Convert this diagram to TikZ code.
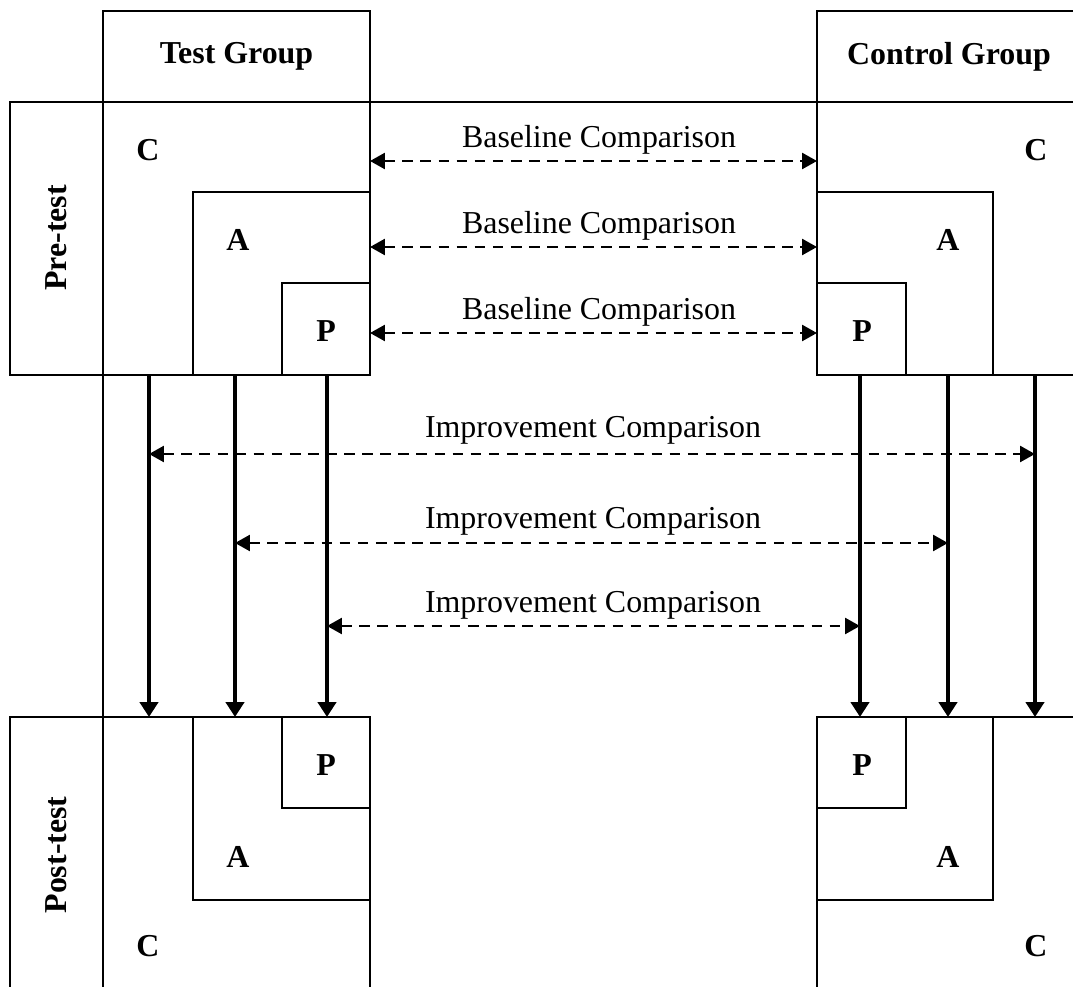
\documentclass[tikz,border=0pt,12pt]{standalone}
\usepackage{fontspec}
\setmainfont{Liberation Serif}
\usetikzlibrary{arrows.meta}

\begin{document}
\begin{tikzpicture}[x=0.376pt, y=-0.376pt,
  box/.style={line width=0.9pt},
  lbl/.style={font=\bfseries},
  cmp/.style={line width=0.9pt, dash pattern=on 4pt off 2.8pt, {Triangle[length=5.6pt,width=6pt]}-{Triangle[length=5.6pt,width=6pt]}},
  flow/.style={line width=1.5pt, -{Triangle[length=5.6pt,width=6.8pt]}}]

\useasboundingbox (0,0) rectangle (1073,987);
\clip (0,0) rectangle (1073,987);

% headers
\draw[box] (103,11) rectangle (370,102);
\draw[box] (817,11) rectangle (1090,102);
\node[lbl] (testgrp) at (236.5,56.5) {Test Group};
\node[lbl] (ctrlgrp) at (949,56.5) {Control Group};
\draw[box] (10,102) -- (1090,102);
\draw[box] (103,11) -- (103,1000);

% pre-test
\draw[box] (10,102) rectangle (103,375);
\node[lbl, rotate=90] (pretest) at (56.5,238) {Pre-test};
\draw[box] (103,102) rectangle (370,375);
\draw[box] (193,192) rectangle (370,375);
\draw[box] (282,283) rectangle (370,375);
\node[lbl] (tpC) at (148,150) {C};
\node[lbl] (tpA) at (238,240) {A};
\node[lbl] (tpP) at (326,331) {P};

\draw[box] (817,102) rectangle (1090,375);
\draw[box] (817,192) rectangle (993,375);
\draw[box] (817,283) rectangle (906,375);
\node[lbl] (cpC) at (1036,150) {C};
\node[lbl] (cpA) at (948,240) {A};
\node[lbl] (cpP) at (862,331) {P};

% post-test
\draw[box] (10,717) rectangle (103,1000);
\node[lbl, rotate=90] (posttest) at (56.5,855) {Post-test};
\draw[box] (103,717) rectangle (370,1000);
\draw[box] (193,717) rectangle (370,900);
\draw[box] (282,717) rectangle (370,808);
\node[lbl] (toP) at (326,765) {P};
\node[lbl] (toA) at (238,857) {A};
\node[lbl] (toC) at (148,946) {C};

\draw[box] (817,717) rectangle (1090,1000);
\draw[box] (817,717) rectangle (993,900);
\draw[box] (817,717) rectangle (906,808);
\node[lbl] (coP) at (862,765) {P};
\node[lbl] (coA) at (948,857) {A};
\node[lbl] (coC) at (1036,946) {C};

% baseline comparisons
\coordinate (bC1) at (370,161); \coordinate (bC2) at (817,161);
\coordinate (bA1) at (370,247); \coordinate (bA2) at (817,247);
\coordinate (bP1) at (370,333); \coordinate (bP2) at (817,333);
\draw[cmp] (bC1) -- (bC2);
\draw[cmp] (bA1) -- (bA2);
\draw[cmp] (bP1) -- (bP2);
\node[anchor=base] (blC) at (599,148) {Baseline Comparison};
\node[anchor=base] (blA) at (599,234) {Baseline Comparison};
\node[anchor=base] (blP) at (599,320) {Baseline Comparison};

% pre to post
\coordinate (tC1) at (149,375); \coordinate (tC2) at (149,717);
\coordinate (tA1) at (235,375); \coordinate (tA2) at (235,717);
\coordinate (tP1) at (327,375); \coordinate (tP2) at (327,717);
\coordinate (cP1) at (860,375); \coordinate (cP2) at (860,717);
\coordinate (cA1) at (948,375); \coordinate (cA2) at (948,717);
\coordinate (cC1) at (1035,375); \coordinate (cC2) at (1035,717);
\draw[flow] (tC1) -- (tC2);
\draw[flow] (tA1) -- (tA2);
\draw[flow] (tP1) -- (tP2);
\draw[flow] (cP1) -- (cP2);
\draw[flow] (cA1) -- (cA2);
\draw[flow] (cC1) -- (cC2);

% improvement comparisons
\coordinate (iC1) at (149,454); \coordinate (iC2) at (1035,454);
\coordinate (iA1) at (235,543); \coordinate (iA2) at (948,543);
\coordinate (iP1) at (327,626); \coordinate (iP2) at (860,626);
\draw[cmp] (iC1) -- (iC2);
\draw[cmp] (iA1) -- (iA2);
\draw[cmp] (iP1) -- (iP2);
\node[anchor=base] (imC) at (593,438) {Improvement Comparison};
\node[anchor=base] (imA) at (593,528) {Improvement Comparison};
\node[anchor=base] (imP) at (593,612) {Improvement Comparison};

\end{tikzpicture}
\end{document}
